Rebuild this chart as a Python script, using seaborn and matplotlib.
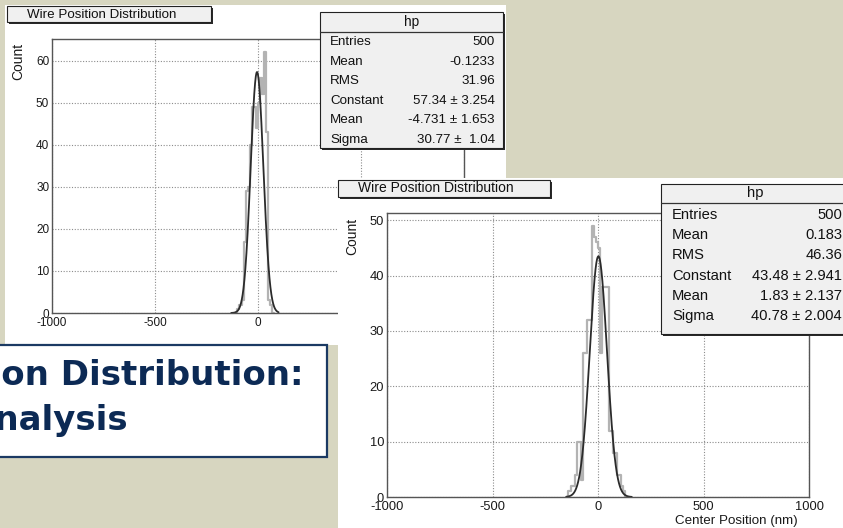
import numpy as np
import pandas as pd
import matplotlib
matplotlib.use("Agg")
import matplotlib.pyplot as plt
import seaborn as sns
from matplotlib.patches import Rectangle
from matplotlib.lines import Line2D

sns.set_style("white")
plt.rcParams['font.family'] = ['Liberation Sans', 'DejaVu Sans']

# ---------------- data ----------------
bin_width = 10
# panel 1 (upper-left) histogram, first bin edge and counts
hist1_start = -110
hist1_counts = [0, 1, 2, 3, 17, 29, 30, 40, 49, 49, 44, 50, 56, 52, 62, 43, 3, 2, 0]
# panel 2 (lower-right) histogram
hist2_start = -150
hist2_counts = [0, 1, 2, 2, 4, 10, 10, 3, 26, 26, 32, 32, 49, 47, 46, 45, 26, 38, 38, 38,
                12, 12, 8, 8, 4, 4, 2, 1, 0]

fit1_params = [57.34, -4.731, 30.77]   # constant, mean, sigma
fit1_range = [-130, 100]
fit2_params = [43.48, 1.83, 40.78]
fit2_range = [-150, 160]

x_ticks = [-1000, -500, 0, 500, 1000]
x_tick_labels = ["-1000", "-500", "0", "500", "1000"]
x_minor = [-750, -250, 250, 750]
y_ticks1 = [0, 10, 20, 30, 40, 50, 60]
y_ticks2 = [0, 10, 20, 30, 40, 50]
y_max1 = 65.2
y_max2 = 51.3

hist_title = "Wire Position Distribution"
stats_name = "hp"
stats_labels = ["Entries", "Mean", "RMS", "Constant", "Mean", "Sigma"]
stats1_values = ["500", "-0.1233", "31.96", "57.34 ± 3.254", "-4.731 ± 1.653", "30.77 ±  1.04"]
stats2_values = ["500", "0.183", "46.36", "43.48 ± 2.941", "1.83 ± 2.137", "40.78 ± 2.004"]
y_label = "Count"
x_label = "Center Position (nm)"
slide_title = ["Wire Position Distribution:", "Analysis"]

# ---------------- figure ----------------
W, H = 843, 528
fig = plt.figure(figsize=(W / 100, H / 100), dpi=100)
fig.patch.set_facecolor('#d7d6c0')


def fx(x):
    return x / W


def fy(y):
    return 1 - y / H


def box(x0, y0, x1, y1, fc, ec, lw, z, shadow=0):
    if shadow:
        fig.add_artist(Rectangle((fx(x0 + shadow), fy(y1 + shadow)), (x1 - x0) / W, (y1 - y0) / H,
                                 transform=fig.transFigure, fc='#2a2a2a', ec='none', zorder=z))
    fig.add_artist(Rectangle((fx(x0), fy(y1)), (x1 - x0) / W, (y1 - y0) / H,
                             transform=fig.transFigure, fc=fc, ec=ec, lw=lw, zorder=z + 0.01))


def hline(x0, x1, y, z, color='#333333', lw=0.9):
    fig.add_artist(Line2D([fx(x0), fx(x1)], [fy(y), fy(y)], transform=fig.transFigure,
                          color=color, lw=lw, zorder=z))


def draw_panel(rect, counts, start, fit, fit_rng, ymax, yticks, z, fs, maj, mnr):
    x0, y0, x1, y1 = rect
    ax = fig.add_axes([fx(x0), fy(y1), (x1 - x0) / W, (y1 - y0) / H])
    ax.set_zorder(z)
    ax.set_facecolor('white')
    n = len(counts)
    edges = start + bin_width * np.arange(n + 1)
    hdf = pd.DataFrame({'x': start + bin_width * (np.arange(n) + 0.5),
                        'w': np.asarray(counts, dtype=float)})
    sns.histplot(data=hdf, x='x', weights='w', bins=list(edges), element='step', fill=False,
                 color='#b3b3b3', linewidth=1.6, ax=ax)
    xs = np.linspace(fit_rng[0], fit_rng[1], 400)
    ys = fit[0] * np.exp(-0.5 * ((xs - fit[1]) / fit[2]) ** 2)
    df = pd.DataFrame({'x': xs, 'y': ys})
    sns.lineplot(data=df, x='x', y='y', color='#2b2b2b', linewidth=1.3, ax=ax, legend=False)
    ax.set_xlim(-1000, 1000)
    ax.set_ylim(0, ymax)
    ax.set_xlabel('')
    ax.set_ylabel('')
    ax.set_xticks(x_ticks)
    ax.set_xticklabels(x_tick_labels)
    ax.set_xticks(x_minor, minor=True)
    ax.set_yticks(yticks)
    ax.set_yticklabels([str(v) for v in yticks])
    ax.set_yticks(np.arange(0, ymax, 2), minor=True)
    ax.tick_params(axis='both', which='both', direction='in', colors='#444444',
                   labelcolor='#1a1a1a', labelsize=fs, width=0.9)
    ax.tick_params(axis='y', which='major', length=maj, pad=2.0)
    ax.tick_params(axis='y', which='minor', length=mnr)
    ax.tick_params(axis='x', which='major', length=maj, pad=3.0)
    ax.tick_params(axis='x', which='minor', length=mnr)
    ax.grid(True, which='major', linestyle=(0, (1, 1.5)), color='#8c8c8c', linewidth=0.8)
    ax.set_axisbelow(True)
    for s in ax.spines.values():
        s.set_visible(True)
        s.set_color('#555555')
        s.set_linewidth(1.0)
    return ax


# ---------- panel 1 ----------
box(5, 5, 506, 345, 'white', 'none', 0, 1)
ax1 = draw_panel((52, 39, 464, 313), hist1_counts, hist1_start, fit1_params, fit1_range,
                 y_max1, y_ticks1, 2, 8.5, 6.5, 3.5)
fig.text(fx(18), fy(43), y_label, rotation=90, ha='center', va='top', fontsize=10,
         color='#1a1a1a', zorder=2.5)
box(7, 6, 211, 22, '#f0f0f0', '#222222', 0.8, 3, shadow=2)
fig.text(fx(27), fy(14.5), hist_title, ha='left', va='center', fontsize=9.6, color='#111111', zorder=3.2)
box(320, 12, 503, 148, '#f0f0f0', '#222222', 0.8, 3, shadow=2)
hline(320, 503, 32, 3.1)
fig.text(fx(412), fy(22), stats_name, ha='center', va='center', fontsize=9.8, color='#111111', zorder=3.2)
for i, (lab, val) in enumerate(zip(stats_labels, stats1_values)):
    yy = 42 + i * 19.6
    fig.text(fx(330), fy(yy), lab, ha='left', va='center', fontsize=9.6, color='#111111', zorder=3.2)
    fig.text(fx(495), fy(yy), val, ha='right', va='center', fontsize=9.6, color='#111111', zorder=3.2)

# ---------- panel 2 ----------
box(338, 178, 845, 530, 'white', 'none', 0, 4)
ax2 = draw_panel((387, 213, 809, 497), hist2_counts, hist2_start, fit2_params, fit2_range,
                 y_max2, y_ticks2, 5, 9.3, 8, 4.3)
fig.text(fx(352), fy(218), y_label, rotation=90, ha='center', va='top', fontsize=10,
         color='#1a1a1a', zorder=5.5)
fig.text(fx(798), fy(521), x_label, ha='right', va='center', fontsize=9.6,
         color='#1a1a1a', zorder=5.5)
box(338, 180, 550, 197, '#f0f0f0', '#222222', 0.8, 6, shadow=2)
fig.text(fx(358), fy(188.5), hist_title, ha='left', va='center', fontsize=10, color='#111111', zorder=6.2)
box(661, 184, 850, 334, '#f0f0f0', '#222222', 0.8, 6, shadow=2)
hline(661, 850, 203, 6.1)
fig.text(fx(755), fy(193.5), stats_name, ha='center', va='center', fontsize=10.6, color='#111111', zorder=6.2)
for i, (lab, val) in enumerate(zip(stats_labels, stats2_values)):
    yy = 215 + i * 20.2
    fig.text(fx(672), fy(yy), lab, ha='left', va='center', fontsize=10.6, color='#111111', zorder=6.2)
    fig.text(fx(842), fy(yy), val, ha='right', va='center', fontsize=10.6, color='#111111', zorder=6.2)

# ---------- slide title box ----------
box(-10, 345, 327, 457, 'white', '#1b3a63', 1.6, 7)
fig.text(fx(303), fy(385), slide_title[0], ha='right', va='baseline', fontsize=24.5,
         fontweight='bold', family='DejaVu Sans', color='#0c2a55', zorder=7.2)
fig.text(fx(128), fy(430), slide_title[1], ha='right', va='baseline', fontsize=24.5,
         fontweight='bold', family='DejaVu Sans', color='#0c2a55', zorder=7.2)

fig.savefig("out.png", dpi=100, facecolor=fig.get_facecolor())
